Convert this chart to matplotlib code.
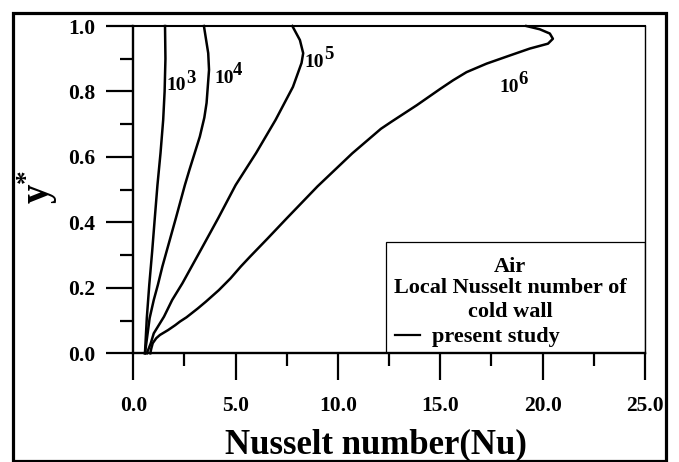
import matplotlib
matplotlib.use("Agg")
import matplotlib.pyplot as plt
from matplotlib.patches import Rectangle
from matplotlib.ticker import MultipleLocator, FormatStrFormatter

plt.rcParams['font.family'] = ['Liberation Serif', 'DejaVu Serif']
plt.rcParams['font.weight'] = 'bold'
plt.rcParams['mathtext.fontset'] = 'custom'
plt.rcParams['mathtext.rm'] = 'Liberation Serif:bold'
plt.rcParams['mathtext.it'] = 'Liberation Serif:bold'
plt.rcParams['mathtext.bf'] = 'Liberation Serif:bold'

# ---- data (y*, Nu) ----
y_ra3 = [0.0, 0.108, 0.209, 0.31, 0.413, 0.514, 0.612, 0.713, 0.80, 0.90, 1.0]
nu_ra3 = [0.57, 0.66, 0.78, 0.92, 1.05, 1.18, 1.33, 1.46, 1.53, 1.57, 1.55]

y_ra4 = [0.0, 0.061, 0.108, 0.163, 0.209, 0.265, 0.31, 0.413, 0.514, 0.56, 0.612, 0.662,
         0.72, 0.765, 0.866, 0.917, 1.0]
nu_ra4 = [0.57, 0.70, 0.80, 1.0, 1.2, 1.42, 1.62, 2.08, 2.52, 2.74, 3.0, 3.25,
          3.47, 3.58, 3.70, 3.66, 3.45]

y_ra5 = [0.0, 0.03, 0.061, 0.112, 0.163, 0.214, 0.265, 0.316, 0.413, 0.514, 0.612, 0.713,
         0.814, 0.887, 0.917, 0.957, 1.0]
nu_ra5 = [0.66, 0.85, 1.0, 1.5, 1.9, 2.4, 2.85, 3.3, 4.15, 5.0, 6.0, 6.95,
          7.8, 8.22, 8.30, 8.14, 7.77]

y_ra6 = [0.0, 0.015, 0.031, 0.046, 0.056, 0.071, 0.086, 0.097, 0.11, 0.137, 0.158, 0.193,
         0.229, 0.265, 0.295, 0.35, 0.412, 0.51, 0.611, 0.686, 0.707, 0.758, 0.808, 0.834,
         0.859, 0.885, 0.910, 0.931, 0.946, 0.961, 0.977, 0.99, 1.0]
nu_ra6 = [0.83, 0.88, 0.95, 1.12, 1.3, 1.7, 2.05, 2.28, 2.6, 3.15, 3.55, 4.18,
          4.75, 5.25, 5.70, 6.55, 7.49, 9.0, 10.7, 12.1, 12.6, 13.85, 15.0, 15.62,
          16.28, 17.26, 18.4, 19.37, 20.26, 20.5, 20.35, 19.86, 19.2]

ra_base = ["10", "10", "10", "10"]
ra_exp = ["3", "4", "5", "6"]
label_x = [1.63, 3.94, 8.38, 17.9]
label_y = [0.804, 0.826, 0.876, 0.798]

xticks = [0, 5, 10, 15, 20, 25]
yticks = [0.0, 0.2, 0.4, 0.6, 0.8, 1.0]

legend_lines = ["Air", "Local Nusselt number of", "cold wall"]

W, H = 679, 462
fig = plt.figure(figsize=(W / 100, H / 100), dpi=100)
ax = fig.add_axes([133.3 / W, 1 - 353.3 / H, (645 - 133.3) / W, (353.3 - 26) / H])

# outer frame
fig.patches.append(Rectangle((12.7 / W, 1 - 460.5 / H), (666 - 12.7) / W, (460.5 - 13) / H,
                             transform=fig.transFigure, fill=False, lw=2.3, ec='black'))

for ys, nus in [(y_ra3, nu_ra3), (y_ra4, nu_ra4), (y_ra5, nu_ra5), (y_ra6, nu_ra6)]:
    ax.plot(nus, ys, color='black', lw=1.8, solid_joinstyle='round', clip_on=False)

for b, e, x, y in zip(ra_base, ra_exp, label_x, label_y):
    ax.text(x, y, b, fontsize=14, ha='left', va='baseline')
    ax.annotate(e, xy=(x, y), xytext=(13.8, 5.5), textcoords='offset points',
                fontsize=13.5, ha='left', va='baseline')

ax.set_xlim(0, 25)
ax.set_ylim(0, 1)
ax.xaxis.set_minor_locator(MultipleLocator(2.5))
ax.yaxis.set_minor_locator(MultipleLocator(0.1))
ax.set_xticks(xticks)
ax.set_yticks(yticks)
ax.xaxis.set_major_formatter(FormatStrFormatter('%.1f'))
ax.yaxis.set_major_formatter(FormatStrFormatter('%.1f'))
ax.tick_params(which='major', direction='out', length=19.5, width=1.6, labelsize=15.5, pad=11)
ax.tick_params(which='minor', direction='out', length=9.5, width=1.6)
ax.tick_params(axis='y', which='major', pad=8)
for lab in ax.get_xticklabels() + ax.get_yticklabels():
    lab.set_fontweight('bold')

ax.spines['left'].set_linewidth(1.7)
ax.spines['bottom'].set_linewidth(1.7)
ax.spines['top'].set_linewidth(1.5)
ax.spines['right'].set_linewidth(1.0)

# legend box
ax.add_patch(Rectangle((12.34, 0.0), 25 - 12.34, 0.339, fill=False, lw=0.9, ec='black',
                       transform=ax.transData, zorder=3))
leg_y = [0.249, 0.183, 0.112]
for t, yy in zip(legend_lines, leg_y):
    ax.text(18.4, yy, t, fontsize=16, ha='center', va='baseline')
ax.plot([12.77, 14.0], [0.056, 0.056], color='black', lw=1.6)
ax.text(14.57, 0.035, "present study", fontsize=16, ha='left', va='baseline')

fig.text(376 / W, 1 - 453 / H, "Nusselt number(Nu)", fontsize=25, ha='center', va='baseline')
fig.text(38 / W, 1 - 187 / H, r"$\mathbf{y^{*}}$", fontsize=28, rotation=90, ha='center', va='center')

fig.savefig("out.png", dpi=100)
